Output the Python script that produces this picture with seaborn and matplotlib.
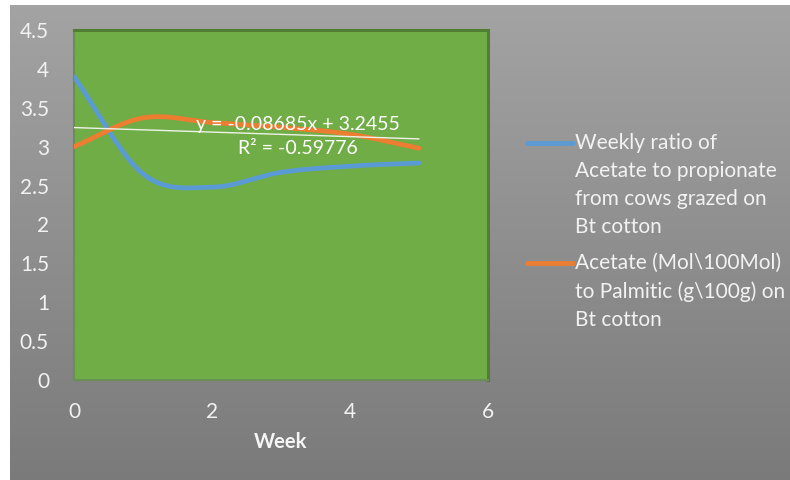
import numpy as np
import pandas as pd
import matplotlib
matplotlib.use("Agg")
import matplotlib.pyplot as plt
from matplotlib.lines import Line2D
import seaborn as sns

# Weekly measurements
weeks = [0, 1, 2, 3, 4, 5]
ratio_acetate_propionate = [3.90, 2.65, 2.48, 2.67, 2.75, 2.79]
acetate_to_palmitic = [3.00, 3.37, 3.31, 3.25, 3.16, 2.98]

series_labels = [
    "Weekly ratio of\nAcetate to propionate\nfrom cows grazed on\nBt cotton",
    "Acetate (Mol\\100Mol)\nto Palmitic (g\\100g) on\nBt cotton",
]
series_colors = ["#5b9bd5", "#ed7d31"]

# Linear trendline as drawn, with its label
trend_x = [0, 5]
trend_y = [3.2455, 3.10]
trend_equation = "y = -0.08685x + 3.2455"
trend_r2 = "R² = -0.59776"

x_ticks = [0, 2, 4, 6]
y_ticks = [0, 0.5, 1, 1.5, 2, 2.5, 3, 3.5, 4, 4.5]
y_tick_labels = ["0", "0.5", "1", "1.5", "2", "2.5", "3", "3.5", "4", "4.5"]


def smooth_curve(x, y, per_seg=40):
    """Catmull-Rom spline through the points (spreadsheet-style smoothed line)."""
    x = np.asarray(x, float)
    y = np.asarray(y, float)
    n = len(x)
    px = np.concatenate([[2 * x[0] - x[1]], x, [2 * x[-1] - x[-2]]])
    py = np.concatenate([[2 * y[0] - y[1]], y, [2 * y[-1] - y[-2]]])
    xs, ys = [], []
    for i in range(n - 1):
        p0, p1, p2, p3 = i, i + 1, i + 2, i + 3
        c1x = px[p1] + (px[p2] - px[p0]) / 6
        c1y = py[p1] + (py[p2] - py[p0]) / 6
        c2x = px[p2] - (px[p3] - px[p1]) / 6
        c2y = py[p2] - (py[p3] - py[p1]) / 6
        t = np.linspace(0, 1, per_seg, endpoint=(i == n - 2))
        b0 = (1 - t) ** 3
        b1 = 3 * (1 - t) ** 2 * t
        b2 = 3 * (1 - t) * t ** 2
        b3 = t ** 3
        xs.append(b0 * px[p1] + b1 * c1x + b2 * c2x + b3 * px[p2])
        ys.append(b0 * py[p1] + b1 * c1y + b2 * c2y + b3 * py[p2])
    return np.concatenate(xs), np.concatenate(ys)


sns.set_theme(style="white")
plt.rcParams["font.family"] = ["Lato", "DejaVu Sans"]

W, H = 790, 480
fig = plt.figure(figsize=(W / 100, H / 100), dpi=100)
fig.patch.set_facecolor("white")

# Grey gradient chart background
bg = fig.add_axes([10 / W, 0, 1 - 10 / W, 1 - 5 / H], zorder=0)
grad = np.linspace(0.64, 0.48, 256).reshape(-1, 1)
bg.imshow(np.dstack([grad, grad, grad]), aspect="auto", extent=[0, 1, 0, 1])
bg.set_axis_off()

# Plot area
left, right, top, bottom = 74, 488, 30, 380
ax = fig.add_axes([left / W, 1 - bottom / H, (right - left) / W, (bottom - top) / H], zorder=1)
ax.set_facecolor("#70ad47")

frames = []
for lab, vals in zip(series_labels, [ratio_acetate_propionate, acetate_to_palmitic]):
    sx, sy = smooth_curve(weeks, vals)
    frames.append(pd.DataFrame({"week": sx, "value": sy, "series": lab}))
df = pd.concat(frames, ignore_index=True)

sns.lineplot(data=df, x="week", y="value", hue="series", palette=series_colors,
             linewidth=3.4, sort=False, legend=False, ax=ax, zorder=3)
sns.lineplot(x=trend_x, y=trend_y, color="#eef3e8", linewidth=1.0, ax=ax, zorder=4)

ax.text(3.25, 3.29, trend_equation, color="white", fontsize=14, ha="center", va="center", zorder=5)
ax.text(3.25, 2.98, trend_r2, color="white", fontsize=14, ha="center", va="center", zorder=5)

ax.set_xlim(0, 6)
ax.set_ylim(0, 4.5)
ax.set_xticks(x_ticks)
ax.set_xticklabels([str(t) for t in x_ticks])
ax.set_yticks(y_ticks)
ax.set_yticklabels(y_tick_labels)
ax.tick_params(axis="both", colors="#a8a8a8", labelcolor="#f2f2f2", labelsize=15, length=3, width=1)
ax.tick_params(axis="y", pad=15)
ax.tick_params(axis="x", pad=13)
ax.set_xlabel("Week", color="#f5f5f5", fontsize=14.5, fontweight="bold", labelpad=7)
ax.set_ylabel("")
for side in ["top", "right"]:
    ax.spines[side].set_color("#507e32")
    ax.spines[side].set_linewidth(2.2)
for side in ["left", "bottom"]:
    ax.spines[side].set_color("#6a8f55")
    ax.spines[side].set_linewidth(1.5)

# Legend: swatch beside the first line of each entry
legend_rows = [143, 263]
for lab, col, yrow in zip(series_labels, series_colors, legend_rows):
    yf = 1 - yrow / H
    fig.add_artist(Line2D([527 / W, 573 / W], [yf, yf], color=col, linewidth=3.4,
                          transform=fig.transFigure, zorder=5))
    fig.text(575 / W, 1 - (yrow - 10) / H, lab, color="#f2f2f2", fontsize=15,
             ha="left", va="top", linespacing=1.5, zorder=5)

fig.savefig("out.png", dpi=100, facecolor=fig.get_facecolor())
